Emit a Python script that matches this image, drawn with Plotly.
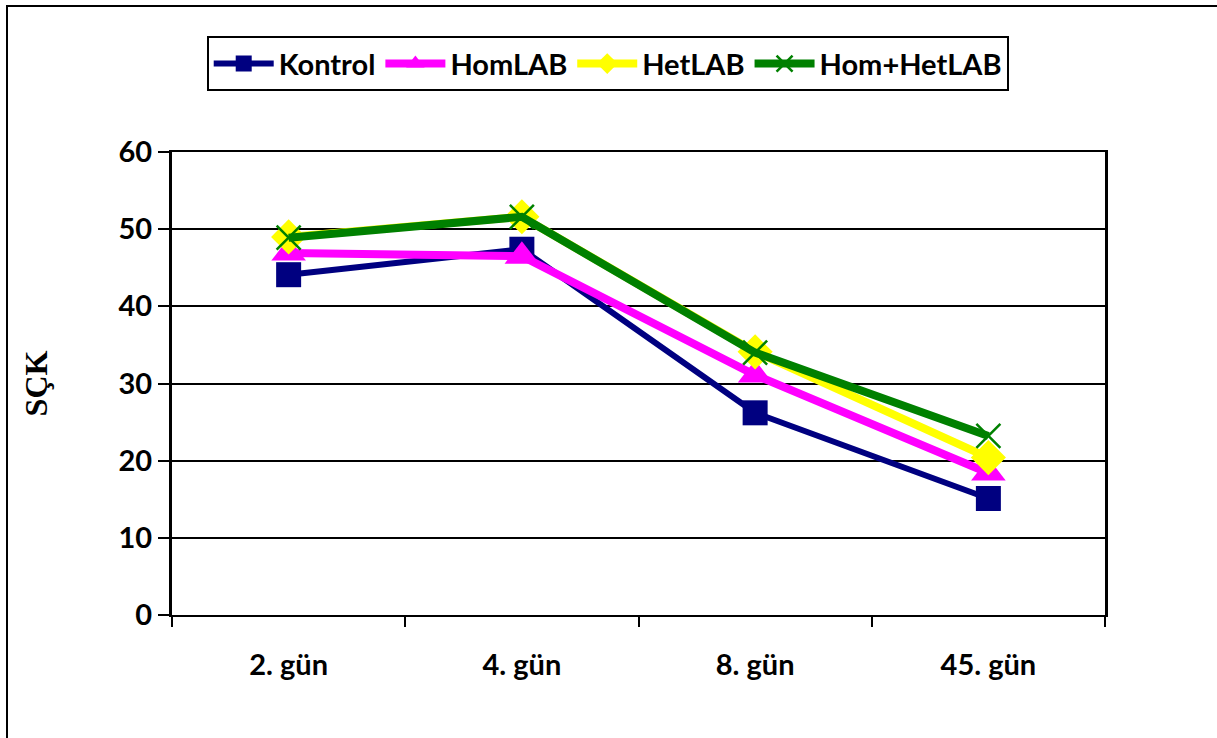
import plotly.graph_objects as go

categories = ["2. gün", "4. gün", "8. gün", "45. gün"]
kontrol = [44.1, 47.4, 26.2, 15.1]
homlab = [46.9, 46.5, 31.1, 18.4]
hetlab = [49.0, 51.6, 34.1, 20.4]
homhet = [48.9, 51.6, 34.0, 23.2]
y_ticks = [0, 10, 20, 30, 40, 50, 60]

series = [
    ("Kontrol", kontrol, "#000080", 6, "square", 25, None),
    ("HomLAB", homlab, "#FF00FF", 8, "triangle-up", 30, None),
    ("HetLAB", hetlab, "#FFFF00", 8, "diamond", 27, None),
    ("Hom+HetLAB", homhet, "#008000", 8, "x-thin", 24, "#008000"),
]

fig = go.Figure()
for name, vals, color, lw, sym, ms, mline in series:
    marker = dict(symbol=sym, size=ms, color=color)
    if mline:
        marker["line"] = dict(color=mline, width=2.5)
    fig.add_trace(go.Scatter(
        x=categories, y=vals, name=name, mode="lines+markers",
        line=dict(color=color, width=lw), marker=marker,
    ))

font_family = "Lato"
fig.update_layout(
    width=1217, height=738,
    margin=dict(l=172, r=112, t=152, b=123),
    paper_bgcolor="white", plot_bgcolor="white",
    font=dict(family=font_family, size=29, color="black"),
    showlegend=True,
    legend=dict(
        orientation="h", x=0.467, xanchor="center", y=1.25, yanchor="top",
        bordercolor="black", borderwidth=2, itemwidth=60,
        font=dict(family=font_family, size=29, color="black", weight="bold"),
    ),
    xaxis=dict(
        type="category", range=[-0.5, 3.5], tickson="boundaries",
        ticks="outside", ticklen=10,
        tickwidth=2, tickcolor="black", showline=True, linecolor="black",
        linewidth=2, mirror=True, showgrid=False,
        tickfont=dict(family=font_family, size=29, weight="bold"),
        ticklabelstandoff=23,
    ),
    yaxis=dict(
        range=[0, 60], tickvals=y_ticks, ticks="outside", ticklen=11,
        tickwidth=2, tickcolor="black", showline=True, linecolor="black",
        linewidth=3, mirror=True, showgrid=True, gridcolor="black",
        gridwidth=2, zeroline=False,
        tickfont=dict(family=font_family, size=29, weight="bold"),
        title=dict(text="SÇK", standoff=62,
                   font=dict(family="Liberation Serif", size=32, weight="bold")),
    ),
    shapes=[dict(
        type="rect", xref="paper", yref="paper",
        x0=(7 - 172) / 933, x1=(1240 - 172) / 933,
        y0=(615 - 760) / 463, y1=(615 - 6) / 463,
        line=dict(color="black", width=2), fillcolor="rgba(0,0,0,0)",
        layer="below",
    )],
)

fig.write_html("out.html")
